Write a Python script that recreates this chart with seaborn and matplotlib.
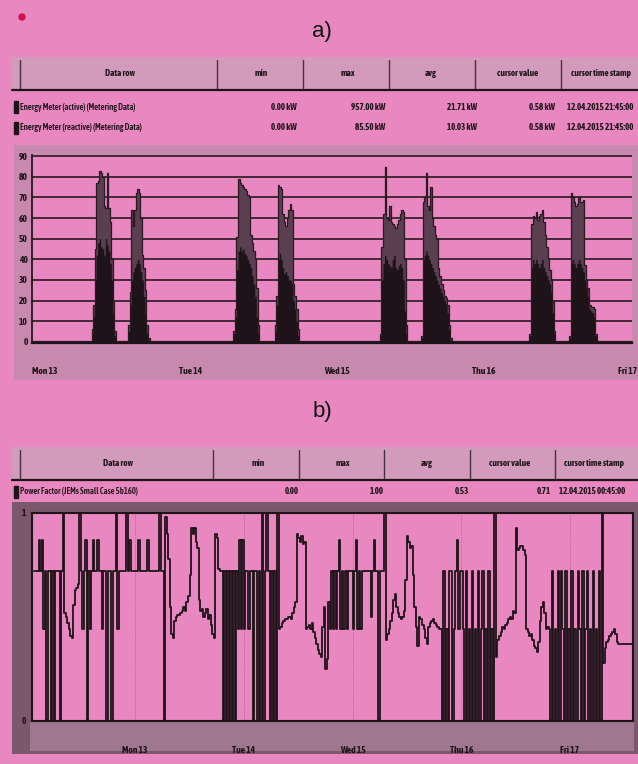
import numpy as np
import pandas as pd
import matplotlib.pyplot as plt
from matplotlib.patches import Rectangle, Circle
from matplotlib.transforms import ScaledTranslation
import seaborn as sns

# ---------------- chart a) energy meter, 15 min samples in kW ----------------
mon_am_active = [6, 18, 45, 77, 78, 83, 82, 80, 66, 65, 82, 65, 58, 40, 20, 5]
mon_am_reactive = [4, 12, 30, 42, 48, 50, 46, 45, 42, 50, 47, 44, 38, 30, 14, 3]
mon_pm_active = [8, 24, 64, 56, 64, 72, 74, 72, 60, 42, 36, 25, 8, 2]
mon_pm_reactive = [5, 18, 30, 34, 36, 38, 40, 38, 34, 30, 22, 14, 4, 1]
tue_am_active = [5, 16, 51, 79, 77, 76, 75, 74, 73, 71, 70, 52, 48, 44, 40, 26, 8]
tue_am_reactive = [4, 12, 35, 44, 46, 44, 45, 43, 42, 40, 38, 36, 32, 28, 22, 12, 4]
tue_pm_active = [8, 22, 76, 75, 74, 62, 58, 56, 60, 64, 67, 64, 28, 22, 16, 6]
tue_pm_reactive = [5, 18, 40, 43, 40, 36, 33, 34, 32, 30, 30, 28, 20, 16, 10, 3]
wed_am_active = [4, 46, 62, 85, 60, 59, 66, 58, 57, 56, 55, 57, 59, 62, 64, 63, 40, 8]
wed_am_reactive = [3, 30, 38, 42, 40, 38, 37, 36, 40, 42, 36, 35, 37, 38, 36, 30, 15, 4]
wed_pm_active = [3, 68, 70, 82, 66, 64, 75, 60, 56, 52, 50, 36, 32, 28, 25, 22, 21, 18, 8, 2]
wed_pm_reactive = [2, 40, 42, 44, 42, 40, 38, 36, 34, 32, 30, 28, 26, 24, 22, 20, 18, 14, 6, 1]
thu_am_active = [4, 57, 61, 60, 63, 59, 61, 62, 64, 58, 52, 46, 40, 35, 30, 20, 5]
thu_am_reactive = [3, 36, 40, 38, 40, 38, 36, 38, 40, 36, 34, 32, 30, 28, 24, 14, 4]
thu_pm_active = [3, 72, 70, 68, 66, 67, 70, 68, 68, 69, 37, 30, 26, 18, 17, 17, 16, 4]
thu_pm_reactive = [2, 38, 40, 38, 36, 38, 40, 38, 36, 34, 30, 26, 22, 16, 15, 14, 12, 3]

burst_day = [0, 0, 1, 1, 2, 2, 3, 3]
burst_start_h = [7.75, 13.75, 7.0, 13.75, 7.0, 13.75, 7.5, 14.0]
base_load = 0.6

# ---------------- chart b) power factor, 20 min samples ----------------
pf_sun = [0.72, 0.72, 0.72, 0.87, 0.72, 0.87, 0.44, 0.72, 0.0, 0.72, 0.72, 0.0, 0.72, 0.0, 0.72, 0.72, 0.72, 0.0, 0.72, 1.0,
          0.52, 0.50, 0.47, 0.44, 0.41, 0.40, 0.56, 0.63, 0.64, 0.66, 1.0,
          0.72, 0.44, 0.72, 0.87, 0.0, 0.72, 0.44, 0.72, 0.87, 0.72, 0.72, 0.87, 0.72, 0.72, 0.44, 0.72, 0.72, 0.0,
          0.72, 0.72, 0.0, 0.72, 0.72, 1.0, 0.44, 0.72, 0.72, 0.72, 0.72, 0.72, 1.0, 0.72, 0.87, 0.72, 0.72, 0.72]
pf_mon = [0.72, 0.72, 0.87, 0.72, 0.72, 0.72, 0.72, 0.72, 0.87, 0.72, 0.72, 0.72, 0.72, 0.72, 0.72, 0.72, 1.0, 0.72, 0.72, 0.0,
          0.98, 0.90, 0.78, 0.55, 0.42, 0.40, 0.48, 0.50, 0.51, 0.51, 0.52, 0.53, 0.55, 0.53, 0.57, 0.60, 0.70, 0.93,
          0.90, 0.93, 0.86, 0.83, 0.58, 0.53, 0.54, 0.50, 0.52, 0.54, 0.49, 0.51, 0.46, 0.42, 0.40, 0.90, 0.88, 0.73, 0.72,
          0.72, 0.0, 0.72, 0.0, 0.72, 0.0, 0.72, 0.0, 0.72, 0.0, 0.72, 0.44, 0.87, 0.44, 0.87]
pf_tue = [0.44, 0.72, 0.72, 0.44, 0.72, 0.72, 0.0, 0.72, 0.72, 0.0, 0.72, 0.0, 1.0, 0.0, 0.72, 1.0, 0.72, 0.0, 0.72, 0.0, 0.72, 0.0,
          1.0, 0.44, 0.45, 0.47, 0.48, 0.49, 0.49, 0.50, 0.50, 0.49, 0.52, 0.55, 0.57, 0.90, 0.88, 0.86, 0.89, 0.85,
          0.86, 0.44, 0.45, 0.46, 0.44, 0.47, 0.43, 0.40, 0.37, 0.34, 0.32, 0.31, 0.45, 0.55, 0.25, 0.30, 0.57,
          0.44, 0.72, 0.44, 0.72, 0.44, 0.72, 0.87, 0.44, 0.72, 0.44, 0.72, 0.44, 0.72, 0.72, 0.72]
pf_wed = [0.44, 0.72, 0.87, 0.44, 0.72, 0.44, 0.72, 0.72, 0.72, 0.72, 0.72, 0.72, 0.50, 0.72, 0.87, 0.72, 0.72, 0.0, 0.72, 0.72, 0.72, 1.0,
          0.39, 0.42, 0.44, 0.48, 0.52, 0.58, 0.61, 0.55, 0.52, 0.50, 0.49, 0.50, 0.53, 0.68, 0.89, 0.86, 0.83, 0.84,
          0.70, 0.55, 0.45, 0.36, 0.50, 0.49, 0.46, 0.44, 0.40, 0.37, 0.45, 0.47, 0.48, 0.49, 0.47, 0.46, 0.45, 0.44,
          0.44, 0.0, 0.72, 0.0, 0.44, 0.0, 0.72, 0.72, 0.0, 0.44, 0.72, 0.87, 0.44, 0.72]
pf_thu = [0.72, 0.44, 0.0, 0.72, 0.0, 0.44, 0.0, 0.72, 0.0, 0.44, 0.0, 0.72, 0.0, 0.44, 0.72, 0.0, 0.44, 0.0, 0.72, 0.0, 0.44, 0.0,
          1.0, 0.31, 0.39, 0.41, 0.43, 0.45, 0.44, 0.46, 0.47, 0.49, 0.50, 0.49, 0.53, 0.52, 0.93, 0.82, 0.83, 0.84,
          0.84, 0.82, 0.80, 0.44, 0.43, 0.41, 0.42, 0.39, 0.36, 0.35, 0.33, 0.38, 0.48, 0.55, 0.57, 0.52, 0.44, 0.45,
          0.44, 0.0, 0.72, 0.0, 0.44, 0.0, 0.72, 0.0, 0.72, 0.44, 0.0, 0.72, 0.0, 0.44]
pf_fri = [0.0, 0.72, 0.0, 0.44, 0.0, 0.72, 0.44, 0.0, 0.72, 0.0, 0.44, 0.72, 0.0, 0.44, 0.0, 0.72, 0.0, 0.44, 0.0, 0.72, 0.0, 1.0,
          0.28, 0.35, 0.38, 0.39, 0.41, 0.42, 0.43, 0.44, 0.42, 0.38, 0.37, 0.37, 0.37, 0.37, 0.37, 0.37, 0.37, 0.37,
          0.37, 0.37, 0.37, 0.37]
pf_first_sample = [5, 0, 0, 0, 0, 0]
pf_day = [-1, 0, 1, 2, 3, 4]

day_labels = ["Mon 13", "Tue 14", "Wed 15", "Thu 16", "Fri 17"]
header_labels = ["Data row", "min", "max", "avg", "cursor value", "cursor time stamp"]
rows_a = [
    ["Energy Meter (active) (Metering Data)", "0.00 kW", "957.00 kW", "21.71 kW", "0.58 kW", "12.04.2015 21:45:00"],
    ["Energy Meter (reactive) (Metering Data)", "0.00 kW", "85.50 kW", "10.03 kW", "0.58 kW", "12.04.2015 21:45:00"],
]
rows_b = [
    ["Power Factor (JEMs Small Case 5b160)", "0.00", "1.00", "0.53", "0.71", "12.04.2015 00:45:00"],
]

W, H = 638, 764
PINK = "#e887c0"
BAND = "#d29abb"
FRAME_A = "#c78aae"
FRAME_B = "#7c586d"
FRAME_B2 = "#a07790"
INK = "#1e1319"
NARROW = ["Asap Condensed", "Archivo Narrow", "Liberation Sans"]


def main():
    sns.set_theme(style="white")
    plt.rcParams["font.family"] = NARROW

    fig = plt.figure(figsize=(W / 100, H / 100), dpi=100)
    fig.patch.set_facecolor(PINK)
    bg = fig.add_axes([0, 0, 1, 1])
    bg.set_xlim(0, W)
    bg.set_ylim(H, 0)
    bg.axis("off")

    def px_axes(x0, y0, x1, y1):
        return fig.add_axes([x0 / W, 1 - y1 / H, (x1 - x0) / W, (y1 - y0) / H])

    def draw_table(top, seps, head_x, rows, row_y, val_x):
        bg.add_patch(Rectangle((12, top), W - 12, 33, facecolor=BAND, edgecolor="none"))
        for x in seps:
            bg.plot([x, x], [top + 3, top + 31], color="#4a3340", lw=1)
        bg.plot([12, W], [top + 33, top + 33], color=INK, lw=1.6)
        for lab, x in zip(header_labels, head_x):
            bg.text(x, top + 17, lab, ha="center", va="center", fontsize=6.6,
                    weight="bold", color=INK)
        for row, y in zip(rows, row_y):
            bg.add_patch(Rectangle((14, y - 6), 3.5, 12, color=INK))
            bg.text(20, y, row[0], ha="left", va="center", fontsize=6.2, weight="semibold", color=INK)
            for val, (x, ha) in zip(row[1:], val_x):
                bg.text(x, y, val, ha=ha, va="center", fontsize=6.5, weight="bold", color=INK)

    # titles and the little red dot
    bg.add_patch(Circle((22, 17), 3, color="#d01050"))
    bg.text(322, 32, "a)", ha="center", va="center", fontsize=16, color="#111",
            family="Liberation Sans")
    bg.text(322, 412, "b)", ha="center", va="center", fontsize=16, color="#111",
            family="Liberation Sans")

    draw_table(57, [20, 217, 303, 389, 475, 561], [120, 261, 348, 431, 518, 601],
               rows_a, [107, 128],
               [(297, "right"), (385, "right"), (477, "right"), (555, "right"), (567, "left")])
    draw_table(447, [20, 213, 299, 384, 470, 555], [118, 258, 343, 427, 510, 594],
               rows_b, [492],
               [(299, "right"), (384, "right"), (469, "right"), (551, "right"), (559, "left")])

    # ---------------- chart a ----------------
    bg.add_patch(Rectangle((14, 145), W - 14, 235, facecolor=FRAME_A, edgecolor="none"))
    step = 15 / 1440
    t = np.arange(-8, 388) * step
    active = np.full(len(t), base_load)
    reactive = np.full(len(t), base_load * 0.5)
    bursts = [(mon_am_active, mon_am_reactive), (mon_pm_active, mon_pm_reactive),
              (tue_am_active, tue_am_reactive), (tue_pm_active, tue_pm_reactive),
              (wed_am_active, wed_am_reactive), (wed_pm_active, wed_pm_reactive),
              (thu_am_active, thu_am_reactive), (thu_pm_active, thu_pm_reactive)]
    for d, h, (act, rea) in zip(burst_day, burst_start_h, bursts):
        i0 = int(round(d * 96 + h * 4)) + 8
        active[i0:i0 + len(act)] = act
        reactive[i0:i0 + len(rea)] = rea
    energy = pd.DataFrame({"day": t, "active": active, "reactive": reactive})

    ax = px_axes(32, 155, 632, 343)
    ax.set_facecolor(PINK)
    ax.set_axisbelow(True)
    ax.fill_between(energy["day"], energy["active"], step="post", color="#5a3f50", lw=0, zorder=2)
    ax.fill_between(energy["day"], energy["reactive"], step="post", color=INK, lw=0, zorder=3)
    sns.lineplot(data=energy, x="day", y="active", estimator=None, drawstyle="steps-post",
                 color="#2a1822", lw=0.9, ax=ax, zorder=4)
    ax.set_xlim(t[0], t[0] + 600 / 146.5)
    ax.set_ylim(-0.6, 90.6)
    ax.set_yticks(range(0, 91, 10))
    ax.set_yticklabels([str(v) for v in range(0, 91, 10)], fontsize=6.8, weight="bold", color=INK)
    ax.yaxis.grid(True, color="#2a1822", lw=1.2)
    ax.set_xticks(range(5))
    ax.set_xticklabels(day_labels, fontsize=6.8, weight="bold", color=INK)
    ax.tick_params(axis="x", direction="out", length=8, width=1, color=INK, pad=9)
    ax.tick_params(axis="y", length=0, pad=3)
    last = ax.get_xticklabels()[-1]
    last.set_ha("right")
    last.set_transform(last.get_transform() + ScaledTranslation(7 / 100, 0, fig.dpi_scale_trans))
    for side in ["top", "right"]:
        ax.spines[side].set_visible(False)
    ax.spines["left"].set_color(INK)
    ax.spines["bottom"].set_color(INK)
    ax.spines["bottom"].set_linewidth(1.6)
    ax.set_xlabel("")
    ax.set_ylabel("")

    # ---------------- chart b ----------------
    bg.add_patch(Rectangle((12, 502), W - 12, 252, facecolor=FRAME_B, edgecolor="none"))
    bg.add_patch(Rectangle((30, 722), W - 34, 29, facecolor=FRAME_B2, edgecolor="none"))
    pf_step = 20 / 1440
    times, values = [], []
    for d, first, vals in zip(pf_day, pf_first_sample, [pf_sun, pf_mon, pf_tue, pf_wed, pf_thu, pf_fri]):
        for k, v in enumerate(vals):
            times.append(d + (first + k) * pf_step)
            values.append(v)
    times.append(times[-1] + pf_step)
    values.append(values[-1])
    pf = pd.DataFrame({"day": times, "pf": values})

    bx = px_axes(32, 513, 633, 721)
    bx.set_facecolor(PINK)
    for d in range(5):
        bx.axvline(d, color="#9a5a7c", lw=0.6, ls=":", zorder=1)
    sns.lineplot(data=pf, x="day", y="pf", estimator=None, drawstyle="steps-post",
                 color=INK, lw=1.3, ax=bx, zorder=3)
    x0 = -1 + 5 * pf_step - 2 / 108.7
    bx.set_xlim(x0, x0 + 601 / 108.7)
    bx.set_ylim(0, 1)
    bx.set_yticks([0, 1])
    bx.set_yticklabels(["0", "1"], fontsize=6.8, weight="bold", color=INK)
    bx.set_xticks(range(5))
    bx.set_xticklabels(day_labels, fontsize=6.8, weight="bold", color=INK)
    bx.tick_params(axis="x", direction="out", length=6, width=1, color=INK, pad=12)
    bx.tick_params(axis="y", length=0, pad=4)
    for side in ["top", "right", "left", "bottom"]:
        bx.spines[side].set_color(INK)
        bx.spines[side].set_linewidth(1.5)
    bx.set_xlabel("")
    bx.set_ylabel("")

    fig.savefig("out.png", dpi=100, facecolor=PINK)


if __name__ == "__main__":
    main()
